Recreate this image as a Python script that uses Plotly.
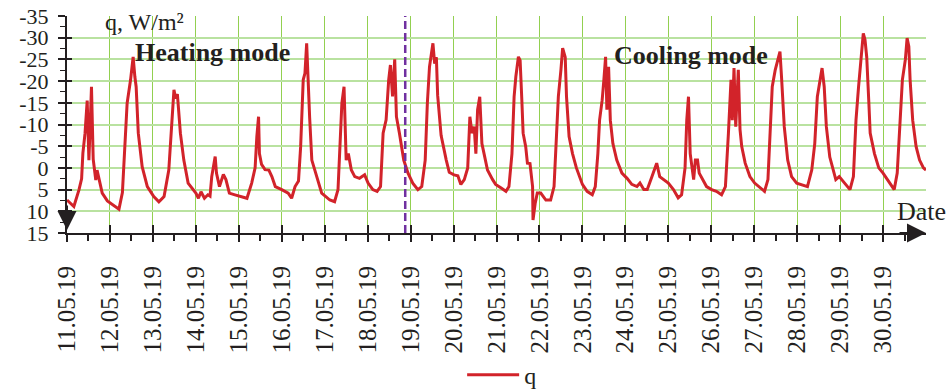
import pandas as pd
import plotly.graph_objects as go

# ---- data ----
start_date = "2019-05-11"
# time in days since 11.05.19 00:00
q_days = [
    0.00, 0.16, 0.28, 0.34, 0.37, 0.42, 0.47, 0.51, 0.54, 0.57, 0.61, 0.64, 0.67, 0.70, 0.74, 0.82, 0.94,
    1.05, 1.21, 1.29, 1.35, 1.40, 1.48, 1.54, 1.58, 1.61, 1.66, 1.75, 1.87,
    2.02, 2.14, 2.26, 2.37, 2.43, 2.49, 2.53, 2.57, 2.64, 2.72, 2.82, 2.95,
    3.00, 3.06, 3.12, 3.20, 3.28, 3.33, 3.37, 3.45, 3.48, 3.55, 3.64, 3.70, 3.78, 3.91,
    4.03, 4.19, 4.30, 4.38, 4.42, 4.46, 4.48, 4.53, 4.61, 4.70, 4.77, 4.85,
    5.00, 5.15, 5.23, 5.31, 5.39, 5.44, 5.50, 5.54, 5.58, 5.62, 5.65, 5.70, 5.81, 5.93,
    6.12, 6.23, 6.31, 6.35, 6.40, 6.45, 6.48, 6.50, 6.55, 6.62, 6.70, 6.81, 6.93,
    7.01, 7.12, 7.22, 7.30, 7.36, 7.43, 7.49, 7.53, 7.58, 7.63, 7.67, 7.74, 7.84, 7.94,
    8.05, 8.17, 8.26, 8.34, 8.39, 8.44, 8.52, 8.56, 8.60, 8.63, 8.71, 8.83, 8.90,
    9.01, 9.10, 9.17, 9.25, 9.33, 9.38, 9.43, 9.48, 9.52, 9.56, 9.61, 9.66, 9.71, 9.79, 9.91, 9.98,
    10.10, 10.22, 10.29, 10.36, 10.41, 10.45, 10.51, 10.55, 10.59, 10.62, 10.68, 10.72, 10.78, 10.84, 10.85, 10.90, 10.95,
    11.03, 11.15, 11.26, 11.34, 11.38, 11.44, 11.50, 11.54, 11.60, 11.63, 11.69, 11.77, 11.86,
    12.00, 12.11, 12.23, 12.30, 12.36, 12.40, 12.46, 12.50, 12.54, 12.57, 12.61, 12.65, 12.71, 12.80, 12.92,
    13.04, 13.15, 13.27, 13.34, 13.43, 13.51, 13.62, 13.73, 13.80, 13.90,
    14.00, 14.12, 14.23, 14.31, 14.39, 14.43, 14.47, 14.51, 14.55, 14.59, 14.63, 14.68, 14.72, 14.80, 14.89,
    15.01, 15.12, 15.24, 15.33, 15.40, 15.46, 15.49, 15.53, 15.57, 15.63, 15.67, 15.71, 15.79, 15.90,
    16.01, 16.13, 16.24, 16.32, 16.38, 16.42, 16.49, 16.55, 16.60, 16.64, 16.70, 16.78, 16.87, 16.99,
    17.10, 17.24, 17.34, 17.41, 17.47, 17.53, 17.58, 17.63, 17.68, 17.76, 17.84, 17.90, 17.98,
    18.10, 18.23, 18.31, 18.37, 18.43, 18.49, 18.54, 18.58, 18.62, 18.67, 18.70, 18.80, 18.90,
    19.00, 19.14, 19.26, 19.33, 19.40, 19.45, 19.52, 19.56, 19.60, 19.63, 19.69, 19.77, 19.85, 19.94, 20.00,
]
q_values = [
    7.4, 8.9, 5.0, 2.5, -3.4, -8.0, -15.5, -1.8, -10.0, -18.7, -2.0, 1.0, 2.8, 0.5, 2.5, 5.8, 7.6,
    8.4, 9.5, 5.7, -4.9, -14.9, -20.3, -25.6, -21.0, -18.7, -8.0, -0.3, 4.3,
    6.6, 7.8, 6.6, 0.5, -8.8, -18.0, -16.0, -17.0, -8.0, -1.8, 3.5, 5.0,
    5.8, 7.0, 5.5, 7.0, 6.2, 6.5, 2.0, -2.6, 1.2, 4.3, 1.5, 2.7, 5.8, 6.2,
    6.5, 7.0, 3.5, 0.0, -7.2, -11.8, -3.3, -0.8, 0.4, 0.5, 2.0, 4.3,
    5.0, 5.8, 7.0, 4.3, 3.0, -4.9, -20.3, -21.8, -28.7, -16.7, -11.5, -1.8, 2.0, 5.8,
    7.4, 7.8, 5.0, -3.3, -14.9, -18.7, -11.0, -1.8, -3.3, 0.5, 2.0, 2.4, 1.6,
    3.5, 5.0, 5.4, 4.3, -8.0, -11.1, -20.3, -23.7, -16.5, -25.0, -11.8, -8.0, -1.8, 1.2,
    3.5, 5.0, 4.3, -1.8, -14.9, -23.3, -28.7, -24.0, -25.5, -16.7, -7.5, -1.8, 1.0,
    1.6, 1.8, 3.8, 2.7, 0.0, -11.8, -8.0, -9.5, -3.3, -13.4, -16.4, -5.6, -3.3, 0.5, 2.7, 3.8,
    4.6, 5.4, 4.3, -3.3, -16.4, -21.0, -25.6, -24.8, -15.6, -8.0, -4.9, -1.1, -1.0, 4.3, 12.0, 8.2, 5.8,
    5.8, 7.4, 7.4, 4.3, -3.3, -16.4, -22.6, -27.6, -25.5, -16.4, -7.2, -3.3, 0.0,
    3.8, 5.4, 6.2, 4.3, -3.3, -11.0, -15.6, -20.3, -25.6, -13.4, -23.3, -11.0, -5.6, -1.8, 1.2,
    2.4, 3.8, 4.3, 3.5, 5.0, 5.0, 2.0, -1.1, 2.0, 2.7,
    3.5, 5.0, 6.9, 6.2, 0.0, -11.0, -16.4, -3.3, 0.0, 2.7, -1.8, -1.8, 1.2, 2.7, 4.3,
    5.0, 5.4, 6.2, 4.3, -8.0, -20.3, -11.0, -23.0, -9.5, -22.6, -8.8, -4.9, -1.1, 2.0,
    3.5, 4.6, 5.4, 2.7, -11.0, -18.7, -22.6, -25.0, -26.8, -20.3, -9.5, -1.8, 2.0, 3.5,
    3.8, 4.3, 0.5, -5.6, -16.4, -20.3, -23.0, -18.7, -9.5, -2.5, 0.5, 2.7, 2.0,
    3.5, 5.0, 2.0, -11.0, -18.7, -26.4, -31.0, -29.5, -25.5, -14.9, -8.0, -3.3, 0.0,
    1.2, 3.2, 5.0, 1.2, -11.0, -20.3, -25.0, -29.9, -28.0, -20.3, -11.0, -4.9, -1.8, 0.0, 0.5,
]
mode_switch = "2019-05-18 21:00"
x_range = ["2019-05-11", "2019-05-31"]
y_range = [15, -35]
y_tick_vals = [-35, -30, -25, -20, -15, -10, -5, 0, 5, 10, 15]
y_tick_text = ["-35", "-30", "-25", "-20", "-15", "-10", "-5", "0", "5", "10", "15"]
x_tick_dates = pd.date_range("2019-05-11", "2019-05-30", freq="D")
x_tick_text = [d.strftime("%d.%m.%y") for d in x_tick_dates]
x_minor_dates = pd.date_range("2019-05-11 12:00", "2019-05-30 12:00", freq="D")

times = pd.Timestamp(start_date) + pd.to_timedelta(q_days, unit="D")

FONT = "Liberation Serif"
TXT = "#231f20"
RED = "#d2232a"

fig = go.Figure()
fig.add_trace(go.Scatter(x=times, y=q_values, mode="lines", name="q",
                         line=dict(color=RED, width=3)))
# invisible trace on overlay axes so their ticks render
fig.add_trace(go.Scatter(x=[times[0]], y=[q_values[0]], xaxis="x2", yaxis="y2",
                         mode="markers", marker=dict(opacity=0), showlegend=False,
                         hoverinfo="skip"))

fig.add_shape(type="line", xref="x", yref="paper", x0=mode_switch, x1=mode_switch,
              y0=0, y1=1, line=dict(color="#7030a0", width=2.5, dash="8px,4px"))

fig.update_layout(
    width=951, height=391,
    margin=dict(l=67, r=25, t=16, b=158, autoexpand=False),
    paper_bgcolor="white", plot_bgcolor="white",
    font=dict(family=FONT, color=TXT),
    showlegend=True,
    legend=dict(orientation="h", x=0.46, xanchor="left", y=-0.655, yanchor="middle",
                font=dict(size=24, family=FONT, color=TXT), itemwidth=52,
                bgcolor="rgba(0,0,0,0)"),
    xaxis=dict(
        type="date", range=x_range, tickmode="array", tickvals=x_tick_dates,
        ticktext=x_tick_text, tickangle=-90, tickfont=dict(size=25, family=FONT, color=TXT),
        ticks="outside", ticklen=7, tickwidth=1.5, tickcolor=TXT, ticklabelstandoff=14,
        showline=True, linecolor=TXT, linewidth=2,
        showgrid=True, gridcolor="#92d050", gridwidth=1.2, zeroline=False,
        minor=dict(tickmode="array", tickvals=x_minor_dates, ticks="outside", ticklen=6,
                   tickwidth=1.5, tickcolor=TXT, showgrid=False),
    ),
    xaxis2=dict(
        type="date", range=x_range, overlaying="x", anchor="y", side="bottom",
        tickmode="array", tickvals=x_tick_dates, ticks="inside", ticklen=8, tickwidth=1.5,
        tickcolor=TXT, showticklabels=False, showgrid=False, showline=False, zeroline=False,
    ),
    yaxis=dict(
        range=y_range, tickmode="array", tickvals=y_tick_vals, ticktext=y_tick_text,
        tickfont=dict(size=22, family=FONT, color=TXT),
        ticks="outside", ticklen=7, tickwidth=1.5, tickcolor=TXT, ticklabelstandoff=5,
        showline=True, linecolor=TXT, linewidth=2,
        showgrid=True, gridcolor="#b9e2a0", gridwidth=2, zeroline=False,
        minor=dict(dtick=2.5, tick0=0, ticks="outside", ticklen=5, tickwidth=1.2,
                   tickcolor=TXT, showgrid=False),
    ),
    yaxis2=dict(
        range=y_range, overlaying="y", anchor="x", side="left",
        tickmode="array", tickvals=y_tick_vals, ticks="inside", ticklen=5, tickwidth=1.5,
        tickcolor=TXT, showticklabels=False, showgrid=False, showline=False, zeroline=False,
    ),
)

fig.add_annotation(text="q, W/m²", xref="paper", yref="paper", x=0.042, y=0.972,
                   xanchor="left", yanchor="middle", showarrow=False,
                   font=dict(size=24, family=FONT, color=TXT))
fig.add_annotation(text="<b>Heating mode</b>", xref="paper", yref="paper", x=0.077, y=0.834,
                   xanchor="left", yanchor="middle", showarrow=False,
                   font=dict(size=26, family=FONT, color=TXT))
fig.add_annotation(text="<b>Cooling mode</b>", xref="paper", yref="paper", x=0.634, y=0.818,
                   xanchor="left", yanchor="middle", showarrow=False,
                   font=dict(size=26, family=FONT, color=TXT))
fig.add_annotation(text="Date", xref="paper", yref="paper", x=0.964, y=0.097,
                   xanchor="left", yanchor="middle", showarrow=False,
                   font=dict(size=26, family=FONT, color=TXT))
# axis arrows
fig.add_annotation(text="", xref="paper", yref="paper", x=1.0, y=0, ax=-28, ay=0,
                   showarrow=True, arrowhead=2, arrowsize=1.9, arrowwidth=2, arrowcolor=TXT)
fig.add_annotation(text="", xref="paper", yref="paper", x=0, y=0.014, ax=0, ay=-26,
                   showarrow=True, arrowhead=2, arrowsize=1.9, arrowwidth=2, arrowcolor=TXT)

fig.write_html("out.html", config={"displayModeBar": False},
               post_script="document.body.style.margin='0';document.body.style.padding='0';")
